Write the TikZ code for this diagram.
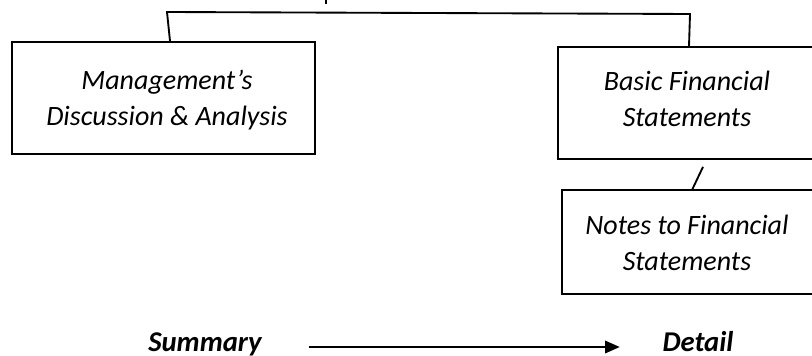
\documentclass[tikz,border=0pt]{standalone}
\usepackage{fontspec}
\setmainfont{Carlito}
\usetikzlibrary{arrows.meta,calc}
\begin{document}
\begin{tikzpicture}[x=0.75pt,y=-0.75pt,
  box/.style={draw=black,line width=1.4pt,inner sep=0pt,anchor=north west},
  txt/.style={align=center,font=\fontsize{21}{26.5}\selectfont\itshape,inner sep=0pt},
  endlabel/.style={font=\fontsize{21.5}{26}\selectfont\bfseries\itshape,inner sep=0pt,anchor=base},
  linkline/.style={line width=1.4pt},
  arrowline/.style={line width=1pt,-{Triangle[length=11pt,width=9.5pt]}}]
\useasboundingbox (0,0) rectangle (812,356);
% boxes (the right ones run past the picture's edge)
\node[box,minimum width=300pt,minimum height=84pt] (bfs) at (557,46) {};
\node[box,minimum width=300pt,minimum height=78pt] (notes) at (561,189) {};
\node[box,minimum width=227.25pt,minimum height=84pt] (mda) at (11,41) {};
% texts
\node[txt] (mdat) at (167,100) {Management’s\\Discussion \& Analysis};
\node[txt] (bfst) at (687,99) {Basic Financial\\Statements};
\node[txt] (notest) at (687,243) {Notes to Financial\\Statements};
% bracket
\coordinate (bl) at (167,12);
\coordinate (br) at (690,14);
\draw[linkline] ($(mda.north west)+(159,0)$) -- (bl) -- (br) -- ($(bfs.north west)+(132,0)$);
% fragment at top
\coordinate (frag) at (326,0);
\draw[linkline] (frag) -- ++(0,4);
% slash connector
\draw[linkline] ($(bfs.south west)+(146,7)$) -- ($(notes.north west)+(131,1)$);
% bottom
\node[endlabel] (sum) at (205,351) {Summary};
\node[endlabel] (det) at (698,351) {Detail};
\draw[arrowline] ([yshift=3pt]sum.base east) -- ([yshift=3pt]det.base west)
  [shorten <=35pt, shorten >=32pt];
\end{tikzpicture}
\end{document}
